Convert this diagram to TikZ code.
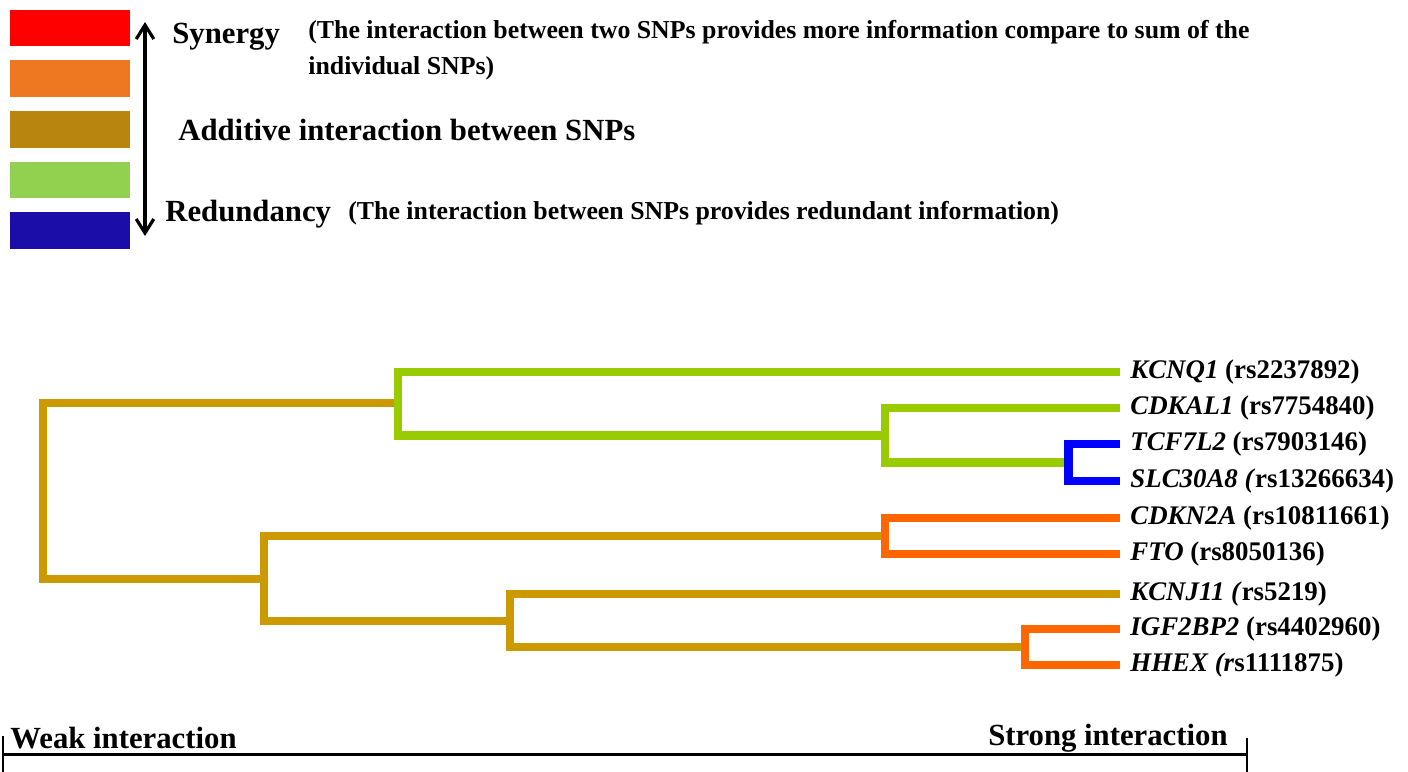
\documentclass[tikz,border=0pt]{standalone}
\usepackage{fontspec}
\setmainfont{Liberation Serif}
\usetikzlibrary{arrows.meta}
\definecolor{legred}{HTML}{FF0000}
\definecolor{legorange}{HTML}{EE7722}
\definecolor{leggold}{HTML}{B8860F}
\definecolor{leggreen}{HTML}{92D050}
\definecolor{legblue}{HTML}{1A0DA8}
\definecolor{brgreen}{HTML}{99CC00}
\definecolor{brblue}{HTML}{0000FF}
\definecolor{brorange}{HTML}{FF6600}
\definecolor{brgold}{HTML}{CC9900}
\tikzset{
  swatch/.style={minimum width=68.3pt,minimum height=21pt,inner sep=0pt},
  big/.style={font=\bfseries\fontsize{17.5}{20}\selectfont,inner sep=0pt,anchor=west},
  small/.style={font=\bfseries\fontsize{14.7}{20.5}\selectfont,inner sep=0pt,anchor=west,align=left},
  leaf/.style={font=\bfseries\fontsize{15.3}{17}\selectfont,anchor=west,inner xsep=5.7pt,inner ysep=0pt},
  branch/.style={line width=5.1pt}
}

\begin{document}
\begin{tikzpicture}[x=0.02cm,y=-0.02cm]
\fill[white] (0,0) rectangle (1408,771);
\useasboundingbox (0,0) rectangle (1408,771);
% legend
\node[swatch,fill=legred] (s1) at (70,28) {};
\node[swatch,fill=legorange] (s2) at (70,78.5) {};
\node[swatch,fill=leggold] (s3) at (70,129.5) {};
\node[swatch,fill=leggreen] (s4) at (70,180) {};
\node[swatch,fill=legblue] (s5) at (70,230.5) {};
\coordinate (atop) at (145,22);
\coordinate (abot) at (145,236);
\draw[line width=1.8pt,{Straight Barb[length=8pt,width=10pt]}-{Straight Barb[length=8pt,width=10pt]}] (atop) -- (abot);
\node[big] (syn) at (172,37) {Synergy};
\node[small] (syntxt) at (308,50) {(The interaction between two SNPs provides more information compare to sum of the\\individual SNPs)};
\node[big] (add) at (178,130) {Additive interaction between SNPs};
\node[big] (red) at (165,214) {Redundancy};
\node[small] (redtxt) at (348,213) {(The interaction between SNPs provides redundant information)};
% leaves
\node[leaf] (kcnq1) at (1120,372) {\textit{KCNQ1} (rs2237892)};
\node[leaf] (cdkal1) at (1120,408) {\textit{CDKAL1} (rs7754840)};
\node[leaf] (tcf7l2) at (1120,444) {\textit{TCF7L2} (rs7903146)};
\node[leaf] (slc30a8) at (1120,481) {\textit{SLC30A8 (}rs13266634)};
\node[leaf] (cdkn2a) at (1120,518) {\textit{CDKN2A} (rs10811661)};
\node[leaf] (fto) at (1120,554) {\textit{FTO} (rs8050136)};
\node[leaf] (kcnj11) at (1120,594) {\textit{KCNJ11 (}rs5219)};
\node[leaf] (igf2bp2) at (1120,629) {\textit{IGF2BP2} (rs4402960)};
\node[leaf] (hhex) at (1120,665) {\textit{HHEX (r}s1111875)};
% joins
\coordinate (nroot) at (43,491);
\coordinate (na) at (398,403);
\coordinate (nb) at (885,435.5);
\coordinate (nc) at (1068,462.5);
\coordinate (nd) at (264,579);
\coordinate (ne) at (885,536);
\coordinate (nf) at (510,621);
\coordinate (ng) at (1025,647);
\draw[branch,brgold] (na) -| (nroot) |- (nd);
\draw[branch,brgreen] (kcnq1.west) -| (na) |- (nb);
\draw[branch,brgreen] (cdkal1.west) -| (nb) |- (nc);
\draw[branch,brblue] (tcf7l2.west) -| (nc) |- (slc30a8.west);
\draw[branch,brgold] (ne) -| (nd) |- (nf);
\draw[branch,brorange] (cdkn2a.west) -| (ne) |- (fto.west);
\draw[branch,brgold] (kcnj11.west) -| (nf) |- (ng);
\draw[branch,brorange] (igf2bp2.west) -| (ng) |- (hhex.west);
% scale
\coordinate (axl) at (3,754);
\coordinate (axr) at (1247,754);
\draw[line width=1.7pt] (axl) -- (axr);
\draw[line width=1pt] (axl) ++(0,-18) -- ++(0,40);
\draw[line width=1pt] (axr) ++(0,-16) -- ++(0,40);
\node[big] (weak) at (10,738) {Weak interaction};
\node[big,anchor=east] (strong) at (1228,738) {Strong interaction};
\end{tikzpicture}
\end{document}
